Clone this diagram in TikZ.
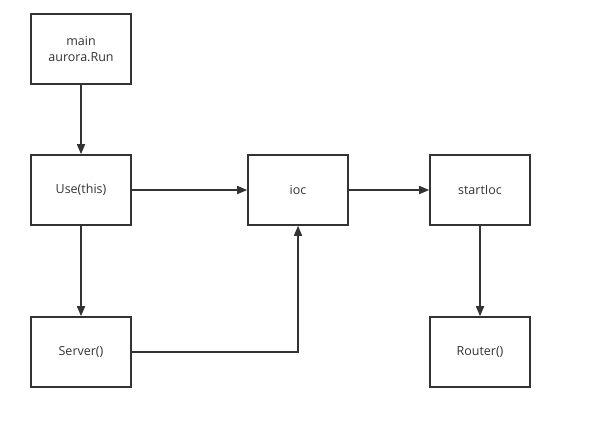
\documentclass[tikz,border=0pt]{standalone}
\usepackage{fontspec}
\setmainfont{Open Sans}
\usetikzlibrary{arrows.meta}
\definecolor{ink}{HTML}{333333}
\begin{document}
\begin{tikzpicture}[x=1pt,y=-1pt,
  box/.style={draw=ink,line width=1.6pt,minimum width=100pt,minimum height=70pt,
    inner sep=0pt,text=ink,font=\fontsize{12.5}{16}\selectfont,align=center},
  link/.style={draw=ink,line width=1.6pt,-{Triangle[length=10pt,width=8pt]}}]
  \useasboundingbox (0,0) rectangle (599,431);
  \node[box] (main) at (81,49) {main\\aurora.Run};
  \node[box] (use) at (81,190) {Use(this)};
  \node[box] (ioc) at (298,190) {ioc};
  \node[box] (start) at (480,190) {startIoc};
  \node[box] (server) at (81,352) {Server()};
  \node[box] (router) at (480,352) {Router()};
  \draw[link] (main) -- (use);
  \draw[link] (use) -- (ioc);
  \draw[link] (ioc) -- (start);
  \draw[link] (use) -- (server);
  \draw[link] (start) -- (router);
  \draw[link] (server.east) -| (ioc.south);
\end{tikzpicture}
\end{document}
